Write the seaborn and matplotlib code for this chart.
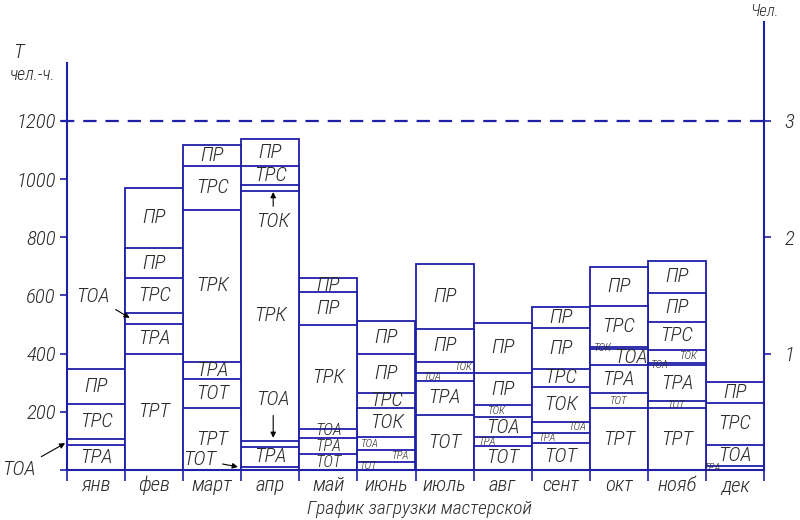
"""
График загрузки мастерской: stacked monthly workload (чел.-ч.) with
a second axis in persons (1 person = 400 чел.-ч.).
"""
import numpy as np
import pandas as pd
import matplotlib
matplotlib.use("Agg")
import matplotlib.pyplot as plt
import seaborn as sns

# ---- data ----------------------------------------------------------------
MONTHS = ["янв", "фев", "март", "апр", "май", "июнь",
          "июль", "авг", "сент", "окт", "нояб", "дек"]

SEG_NAMES = [
    ["ТРА", "ТОА", "ТРС", "ПР"],
    ["ТРТ", "ТРА", "ТОА", "ТРС", "ПР", "ПР"],
    ["ТРТ", "ТОТ", "ТРА", "ТРК", "ТРС", "ПР"],
    ["ТОТ", "ТРА", "ТОА", "ТРК", "ТОК", "ТРС", "ПР"],
    ["ТОТ", "ТРА", "ТОА", "ТРК", "ПР", "ПР"],
    ["ТОТ", "ТРА", "ТОА", "ТОК", "ТРС", "ПР", "ПР"],
    ["ТОТ", "ТРА", "ТОА", "ТОК", "ПР", "ПР"],
    ["ТОТ", "ТРА", "ТОА", "ТОК", "ПР", "ПР"],
    ["ТОТ", "ТРА", "ТОА", "ТОК", "ТРС", "ПР", "ПР"],
    ["ТРТ", "ТОТ", "ТРА", "ТОА", "ТОК", "ТРС", "ПР"],
    ["ТРТ", "ТОТ", "ТРА", "ТОА", "ТОК", "ТРС", "ПР", "ПР"],
    ["ТРА", "ТОА", "ТРС", "ПР"],
]

SEG_HOURS = [
    [86, 22, 119, 121],
    [400, 102, 37, 120, 105, 206],
    [212, 102, 58, 522, 152, 72],
    [11, 69, 21, 858, 21, 66, 91],
    [54, 55, 31, 359, 112, 48],
    [29, 40, 43, 100, 52, 136, 112],
    [189, 118, 28, 37, 113, 223],
    [83, 29, 71, 41, 108, 175],
    [94, 34, 38, 121, 60, 140, 73],
    [212, 52, 97, 54, 9, 140, 133],
    [212, 24, 124, 8, 45, 97, 98, 112],
    [15, 71, 146, 72],
]

NORM_HOURS = 1200          # dashed line, = 3 persons
HOURS_PER_PERSON = 400
LEFT_TICKS = [0, 200, 400, 600, 800, 1000, 1200]
RIGHT_TICKS = [1, 2, 3]

# ---- label layout tweaks (month, segment) -> (dx, dy, size) --------------
# size: "L" large, "M" medium, "s" small, None = not written inside the bar
LABEL_TWEAKS = {
    (0, 1): (0, 0, None), (1, 2): (0, 0, None),
    (3, 0): (0, 0, None), (3, 2): (0, 0, None), (3, 4): (0, 0, None),
    (4, 0): (0, -2, "M"), (4, 1): (0, 0, "M"), (4, 2): (0, 10, "M"),
    (5, 0): (-0.3, 0, "s"), (5, 1): (0.24, 0, "s"), (5, 2): (-0.28, 0, "s"),
    (6, 2): (-0.2, 0, "s"), (6, 3): (0.33, 0, "s"),
    (7, 1): (-0.25, 0, "s"), (7, 3): (-0.1, 0, "s"),
    (8, 1): (-0.23, 0, "s"), (8, 2): (0.3, 0, "s"),
    (9, 1): (0, 0, "s"), (9, 3): (0.2, 0, "L"), (9, 4): (-0.28, 0, "s"),
    (10, 1): (0, 0, "s"), (10, 3): (-0.3, -4, "s"), (10, 4): (0.2, 0, "s"),
    (11, 0): (-0.38, 0, "s"),
}

BLUE = "#1f1fa8"
INK = "#2b2b2b"
FONT = ["Roboto Condensed", "DejaVu Sans"]
SIZES = {"L": 15, "M": 12, "s": 8}

sns.set_style("white")
plt.rcParams["font.family"] = FONT
plt.rcParams["font.style"] = "italic"
plt.rcParams["font.weight"] = "light"

fig = plt.figure(figsize=(8, 5.2), dpi=100)
ax = fig.add_axes([67 / 800, 1 - 470 / 520, (764 - 67) / 800, (470 - 22) / 520])

# cumulative tops, one layer per stack level
n_layers = max(len(v) for v in SEG_HOURS)
tops = [np.cumsum(v) for v in SEG_HOURS]

# draw the tallest layer first, each smaller one on top of it (white fill)
for k in range(n_layers - 1, -1, -1):
    layer = pd.DataFrame({
        "month": MONTHS,
        "top": [t[k] if k < len(t) else np.nan for t in tops],
    })
    sns.barplot(data=layer, x="month", y="top", order=MONTHS, ax=ax,
                color="white", edgecolor=BLUE, linewidth=1.3, width=1,
                errorbar=None, saturation=1)

# labels inside the segments
for m, (names, hours) in enumerate(zip(SEG_NAMES, SEG_HOURS)):
    base = 0
    for i, (name, h) in enumerate(zip(names, hours)):
        dx, dy, size = LABEL_TWEAKS.get((m, i), (0, 0, "L" if h >= 45 else "s"))
        if size is not None:
            ax.text(m + dx, base + h / 2 + dy, name, ha="center", va="center",
                    fontsize=SIZES[size], color=INK)
        base += h

# labels for thin strips, written outside with arrows
arrow = dict(arrowstyle="-|>", color="black", lw=0.8, mutation_scale=8)
notes = [
    ("ТОА", (-0.49, 97), (-1.33, 2)),
    ("ТОА", (0.62, 518), (-0.05, 598)),
    ("ТОТ", (2.49, 9), (1.79, 35)),
    ("ТОА", (3.05, 101), (3.05, 241)),
    ("ТОК", (3.05, 965), (3.05, 853)),
]
for text, xy, xytext in notes:
    ax.annotate(text, xy=xy, xytext=xytext, ha="center", va="center",
                fontsize=SIZES["L"], color=INK, arrowprops=arrow,
                annotation_clip=False)

# norm line
ax.plot([-0.6, 11.5], [NORM_HOURS, NORM_HOURS], color=BLUE, lw=1.6,
        dashes=(6, 4), clip_on=False)

# left axis
ax.set_xlim(-0.5, len(MONTHS) - 0.5)
ax.set_ylim(0, 1540)
ax.set_xlabel("")
ax.set_ylabel("")
ax.set_yticks(LEFT_TICKS)
ax.set_yticklabels([""] + [str(t) for t in LEFT_TICKS[1:]])
ax.tick_params(axis="y", direction="out", length=5, width=1.2, color=BLUE,
               labelsize=15, labelcolor=INK, pad=3, left=True)
ax.set_xticks(np.arange(len(MONTHS) + 1) - 0.5)
ax.set_xticklabels([])
ax.tick_params(axis="x", direction="out", length=8, width=1.2, color=BLUE,
               bottom=True)
ax.set_xticks(np.arange(len(MONTHS)), minor=True)
ax.set_xticklabels(MONTHS, minor=True)
ax.tick_params(axis="x", which="minor", length=0, labelsize=15,
               labelcolor=INK, pad=4)
for side in ["top", "right"]:
    ax.spines[side].set_visible(False)
for side in ["left", "bottom"]:
    ax.spines[side].set_color(BLUE)
    ax.spines[side].set_linewidth(1.5)
ax.spines["left"].set_bounds(0, 1400)

# right axis in persons
ax2 = ax.twinx()
ax2.set_ylim(0, 1540 / HOURS_PER_PERSON)
ax2.set_yticks(RIGHT_TICKS)
ax2.set_yticklabels([str(t) for t in RIGHT_TICKS])
ax2.tick_params(axis="y", direction="out", length=5, width=1.2, color=BLUE,
                labelsize=15, labelcolor=INK, pad=10)
for side in ["top", "left", "bottom"]:
    ax2.spines[side].set_visible(False)
ax2.spines["right"].set_color(BLUE)
ax2.spines["right"].set_linewidth(1.5)
ax2.grid(False)

# axis captions and title
fig.text(18 / 800, 1 - 52 / 520, "Т", fontsize=15, color=INK, ha="center", va="center")
fig.text(33 / 800, 1 - 75 / 520, "чел.-ч.", fontsize=13, color=INK, ha="center", va="center")
fig.text(765 / 800, 1 - 11 / 520, "Чел.", fontsize=12, color=INK, ha="center", va="center")
fig.text(419 / 800, 1 - 509 / 520, "График загрузки мастерской", fontsize=14,
         color=INK, ha="center", va="center")

fig.savefig("out.png", dpi=100, facecolor="white")
